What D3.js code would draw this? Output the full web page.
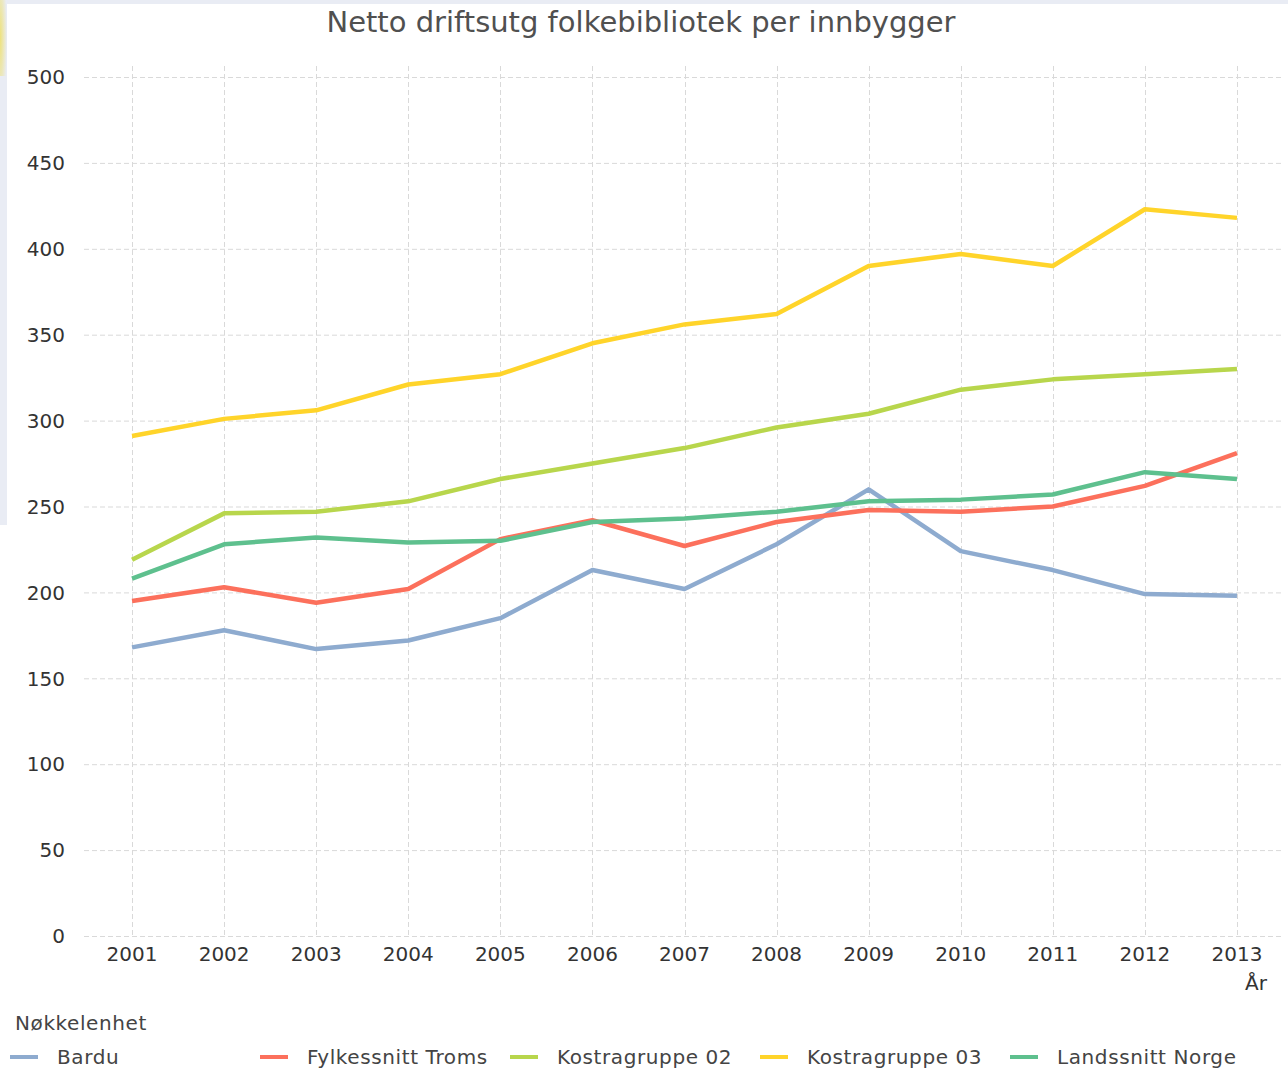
<!DOCTYPE html>
<html>
<head>
<meta charset="utf-8">
<script src="https://cdn.jsdelivr.net/npm/d3@7"></script>
<style>
  html, body { margin: 0; padding: 0; background: #ffffff; }
  svg { display: block; }
  text { font-family: "DejaVu Sans", sans-serif; }
</style>
</head>
<body>
<svg id="chart" width="1288" height="1088"></svg>
<script>
const title = "Netto driftsutg folkebibliotek per innbygger";
const years = ["2001","2002","2003","2004","2005","2006","2007","2008","2009","2010","2011","2012","2013"];
const yTicks = [0, 50, 100, 150, 200, 250, 300, 350, 400, 450, 500];
const seriesNames = ["Bardu", "Fylkessnitt Troms", "Kostragruppe 02", "Kostragruppe 03", "Landssnitt Norge"];
const seriesColors = ["#8eabcf", "#fc705c", "#b8d64c", "#ffd42a", "#5ec08e"];
const bardu      = [168, 178, 167, 172, 185, 213, 202, 228, 260, 224, 213, 199, 198];
const fylkessnitt = [195, 203, 194, 202, 231, 242, 227, 241, 248, 247, 250, 262, 281];
const kostra02   = [219, 246, 247, 253, 266, 275, 284, 296, 304, 318, 324, 327, 330];
const kostra03   = [291, 301, 306, 321, 327, 345, 356, 362, 390, 397, 390, 423, 418];
const landssnitt = [208, 228, 232, 229, 230, 241, 243, 247, 253, 254, 257, 270, 266];
const seriesValues = [bardu, fylkessnitt, kostra02, kostra03, landssnitt];

const svg = d3.select("#chart");

// background frame
const defs = svg.append("defs");
const yg = defs.append("radialGradient").attr("id", "yel").attr("cx", "0").attr("cy", "0.5").attr("r", "1");
yg.append("stop").attr("offset", "0").attr("stop-color", "#eee27a");
yg.append("stop").attr("offset", "1").attr("stop-color", "#e9ecf4");
svg.append("rect").attr("x", 0).attr("y", 0).attr("width", 1288).attr("height", 4).attr("fill", "#e9ecf4");
svg.append("rect").attr("x", 0).attr("y", 0).attr("width", 7).attr("height", 525).attr("fill", "#e9ecf4");
svg.append("rect").attr("x", 0).attr("y", 0).attr("width", 7).attr("height", 76).attr("fill", "url(#yel)");

const x = d3.scalePoint().domain(years).range([86, 1283]).padding(0.5);
const y = d3.scaleLinear().domain([0, 500]).range([936, 77]);

// title
svg.append("text").attr("x", 641).attr("y", 32).attr("text-anchor", "middle")
  .attr("font-size", 29).attr("fill", "#505050").text(title);

// horizontal grid
svg.append("g").selectAll("line").data(yTicks).join("line")
  .attr("x1", 84).attr("x2", 1281)
  .attr("y1", d => y(d) + 0.5).attr("y2", d => y(d) + 0.5)
  .attr("stroke", "#d9d9d9").attr("stroke-width", 1).attr("stroke-dasharray", "5,3");

// vertical grid
svg.append("g").selectAll("line").data(years).join("line")
  .attr("x1", d => Math.round(x(d)) + 0.5).attr("x2", d => Math.round(x(d)) + 0.5)
  .attr("y1", 66).attr("y2", 937)
  .attr("stroke", "#d9d9d9").attr("stroke-width", 1).attr("stroke-dasharray", "5,3");

// y labels
svg.append("g").selectAll("text").data(yTicks).join("text")
  .attr("x", 65).attr("y", d => y(d)).attr("dy", "0.36em")
  .attr("text-anchor", "end").attr("font-size", 20).attr("fill", "#333333")
  .text(d => d);

// x labels
svg.append("g").selectAll("text").data(years).join("text")
  .attr("x", d => x(d)).attr("y", 961)
  .attr("text-anchor", "middle").attr("font-size", 20).attr("fill", "#333333")
  .text(d => d);

svg.append("text").attr("x", 1256).attr("y", 990).attr("text-anchor", "middle")
  .attr("font-size", 20).attr("fill", "#333333").text("År");

// lines
const line = d3.line().x((d, i) => x(years[i])).y(d => y(d));
svg.append("g").selectAll("path").data(seriesValues).join("path")
  .attr("d", d => line(d))
  .attr("fill", "none")
  .attr("stroke", (d, i) => seriesColors[i])
  .attr("stroke-width", 4.5)
  .attr("stroke-linejoin", "round");

// legend
svg.append("text").attr("x", 15).attr("y", 1030).attr("font-size", 20)
  .attr("letter-spacing", 0.6).attr("fill", "#444444").text("Nøkkelenhet");
const leg = svg.append("g").selectAll("g").data(seriesNames).join("g")
  .attr("transform", (d, i) => `translate(${10 + i * 250},1057)`);
leg.append("line").attr("x1", 0).attr("x2", 28).attr("y1", 0).attr("y2", 0)
  .attr("stroke", (d, i) => seriesColors[i]).attr("stroke-width", 4);
leg.append("text").attr("x", 47).attr("y", 0).attr("dy", "0.36em")
  .attr("font-size", 20).attr("letter-spacing", 0.6).attr("fill", "#444444").text(d => d);
</script>
</body>
</html>
